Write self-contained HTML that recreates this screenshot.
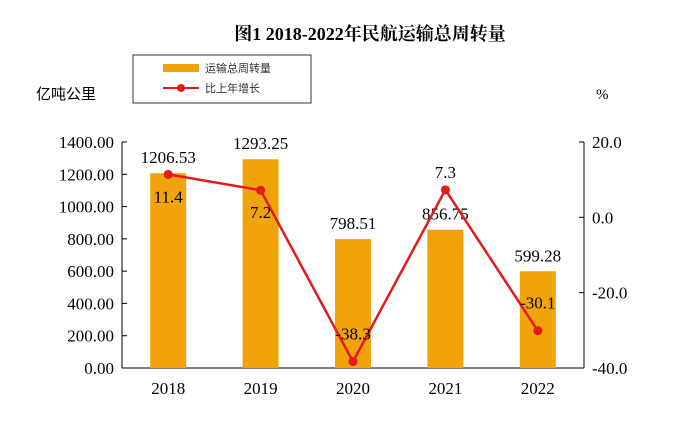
<!DOCTYPE html>
<html><head><meta charset="utf-8"><style>body{margin:0;background:#fff}svg{display:block}</style></head>
<body>
<svg width="677" height="422" viewBox="0 0 677 422" xmlns="http://www.w3.org/2000/svg" font-family="Liberation Serif, Noto Serif CJK SC, serif">
<rect width="677" height="422" fill="#fff"/>
<text x="370" y="40" text-anchor="middle" font-size="18" font-weight="bold" font-family="Liberation Serif, Noto Serif CJK SC, serif">图1  2018-2022年民航运输总周转量</text>
<text x="36" y="99" font-size="15" font-family="Liberation Sans, Noto Sans CJK SC, sans-serif">亿吨公里</text>
<text x="596" y="99" font-size="15">%</text>
<g>
<rect x="133" y="55" width="178" height="48" fill="#fff" stroke="#333" stroke-width="1"/>
<rect x="163" y="64" width="36" height="8" fill="#f0a30a"/>
<text x="205" y="72" font-size="11" fill="#333" font-family="Liberation Sans, Noto Sans CJK SC, sans-serif">运输总周转量</text>
<line x1="163" y1="88" x2="199" y2="88" stroke="#e41a1c" stroke-width="2"/>
<circle cx="181" cy="88" r="4" fill="#e41a1c"/>
<text x="205" y="92" font-size="11" fill="#333" font-family="Liberation Sans, Noto Sans CJK SC, sans-serif">比上年增长</text>
</g>
<g id="plot"></g>
</svg>
<script>
const categories=['2018','2019','2020','2021','2022'];
const volumes=[1206.53,1293.25,798.51,856.75,599.28];
const volumeLabels=['1206.53','1293.25','798.51','856.75','599.28'];
const growth=[11.4,7.2,-38.3,7.3,-30.1];
const growthLabels=['11.4','7.2','-38.3','7.3','-30.1'];
const leftTicks=[0,200,400,600,800,1000,1200,1400];
const rightTicks=[20,0,-20,-40];
const NS='http://www.w3.org/2000/svg';
const g=document.getElementById('plot');
const x0=122,x1=584,yB=368,yT=142;
const yL=v=>yB-(v/1400)*(yB-yT);
const yR=v=>yT+(20-v)/60*(yB-yT);
const xC=i=>x0+(i+0.5)*(x1-x0)/categories.length;
function mk(t,a,txt){const e=document.createElementNS(NS,t);for(const k in a)e.setAttribute(k,a[k]);if(txt!=null)e.textContent=txt;g.appendChild(e);return e;}
let e;
e=mk('line',{x1:x0,y1:yT,x2:x0,y2:yB,stroke:'#000'});


e=mk('line',{x1:x1,y1:yT,x2:x1,y2:yB,stroke:'#000'});


e=mk('line',{x1:x0,y1:yB,x2:x1,y2:yB,stroke:'#000'});


leftTicks.forEach(v=>{mk('line',{x1:x0,y1:yL(v),x2:x0+5,y2:yL(v),stroke:'#000'});
e=mk('text',{x:x0-8,y:yL(v)+6,'text-anchor':'end','font-size':17},v.toFixed(2));

});
rightTicks.forEach(v=>{mk('line',{x1:x1-5,y1:yR(v),x2:x1,y2:yR(v),stroke:'#000'});
e=mk('text',{x:x1+8,y:yR(v)+6,'font-size':17},v.toFixed(1));

});
categories.forEach((c,i)=>{
e=mk('rect',{x:xC(i)-18,y:yL(volumes[i]),width:36,height:yB-yL(volumes[i]),fill:'#f0a30a'});


e=mk('text',{x:xC(i),y:yB+26,'text-anchor':'middle','font-size':17},c);


e=mk('text',{x:xC(i),y:yL(volumes[i])-10,'text-anchor':'middle','font-size':17},volumeLabels[i]);


});
e=mk('polyline',{points:categories.map((c,i)=>xC(i)+','+yR(growth[i])).join(' '),fill:'none',stroke:'#e41a1c','stroke-width':2.5});


categories.forEach((c,i)=>{
e=mk('circle',{cx:xC(i),cy:yR(growth[i]),r:4.5,fill:'#e41a1c'});


const ty=i===3?yR(growth[i])-12:(growth[i]<0?yR(growth[i])-22:yR(growth[i])+28);
e=mk('text',{x:xC(i),y:ty,'text-anchor':'middle','font-size':17},growthLabels[i]);


});
</script>
</body></html>
